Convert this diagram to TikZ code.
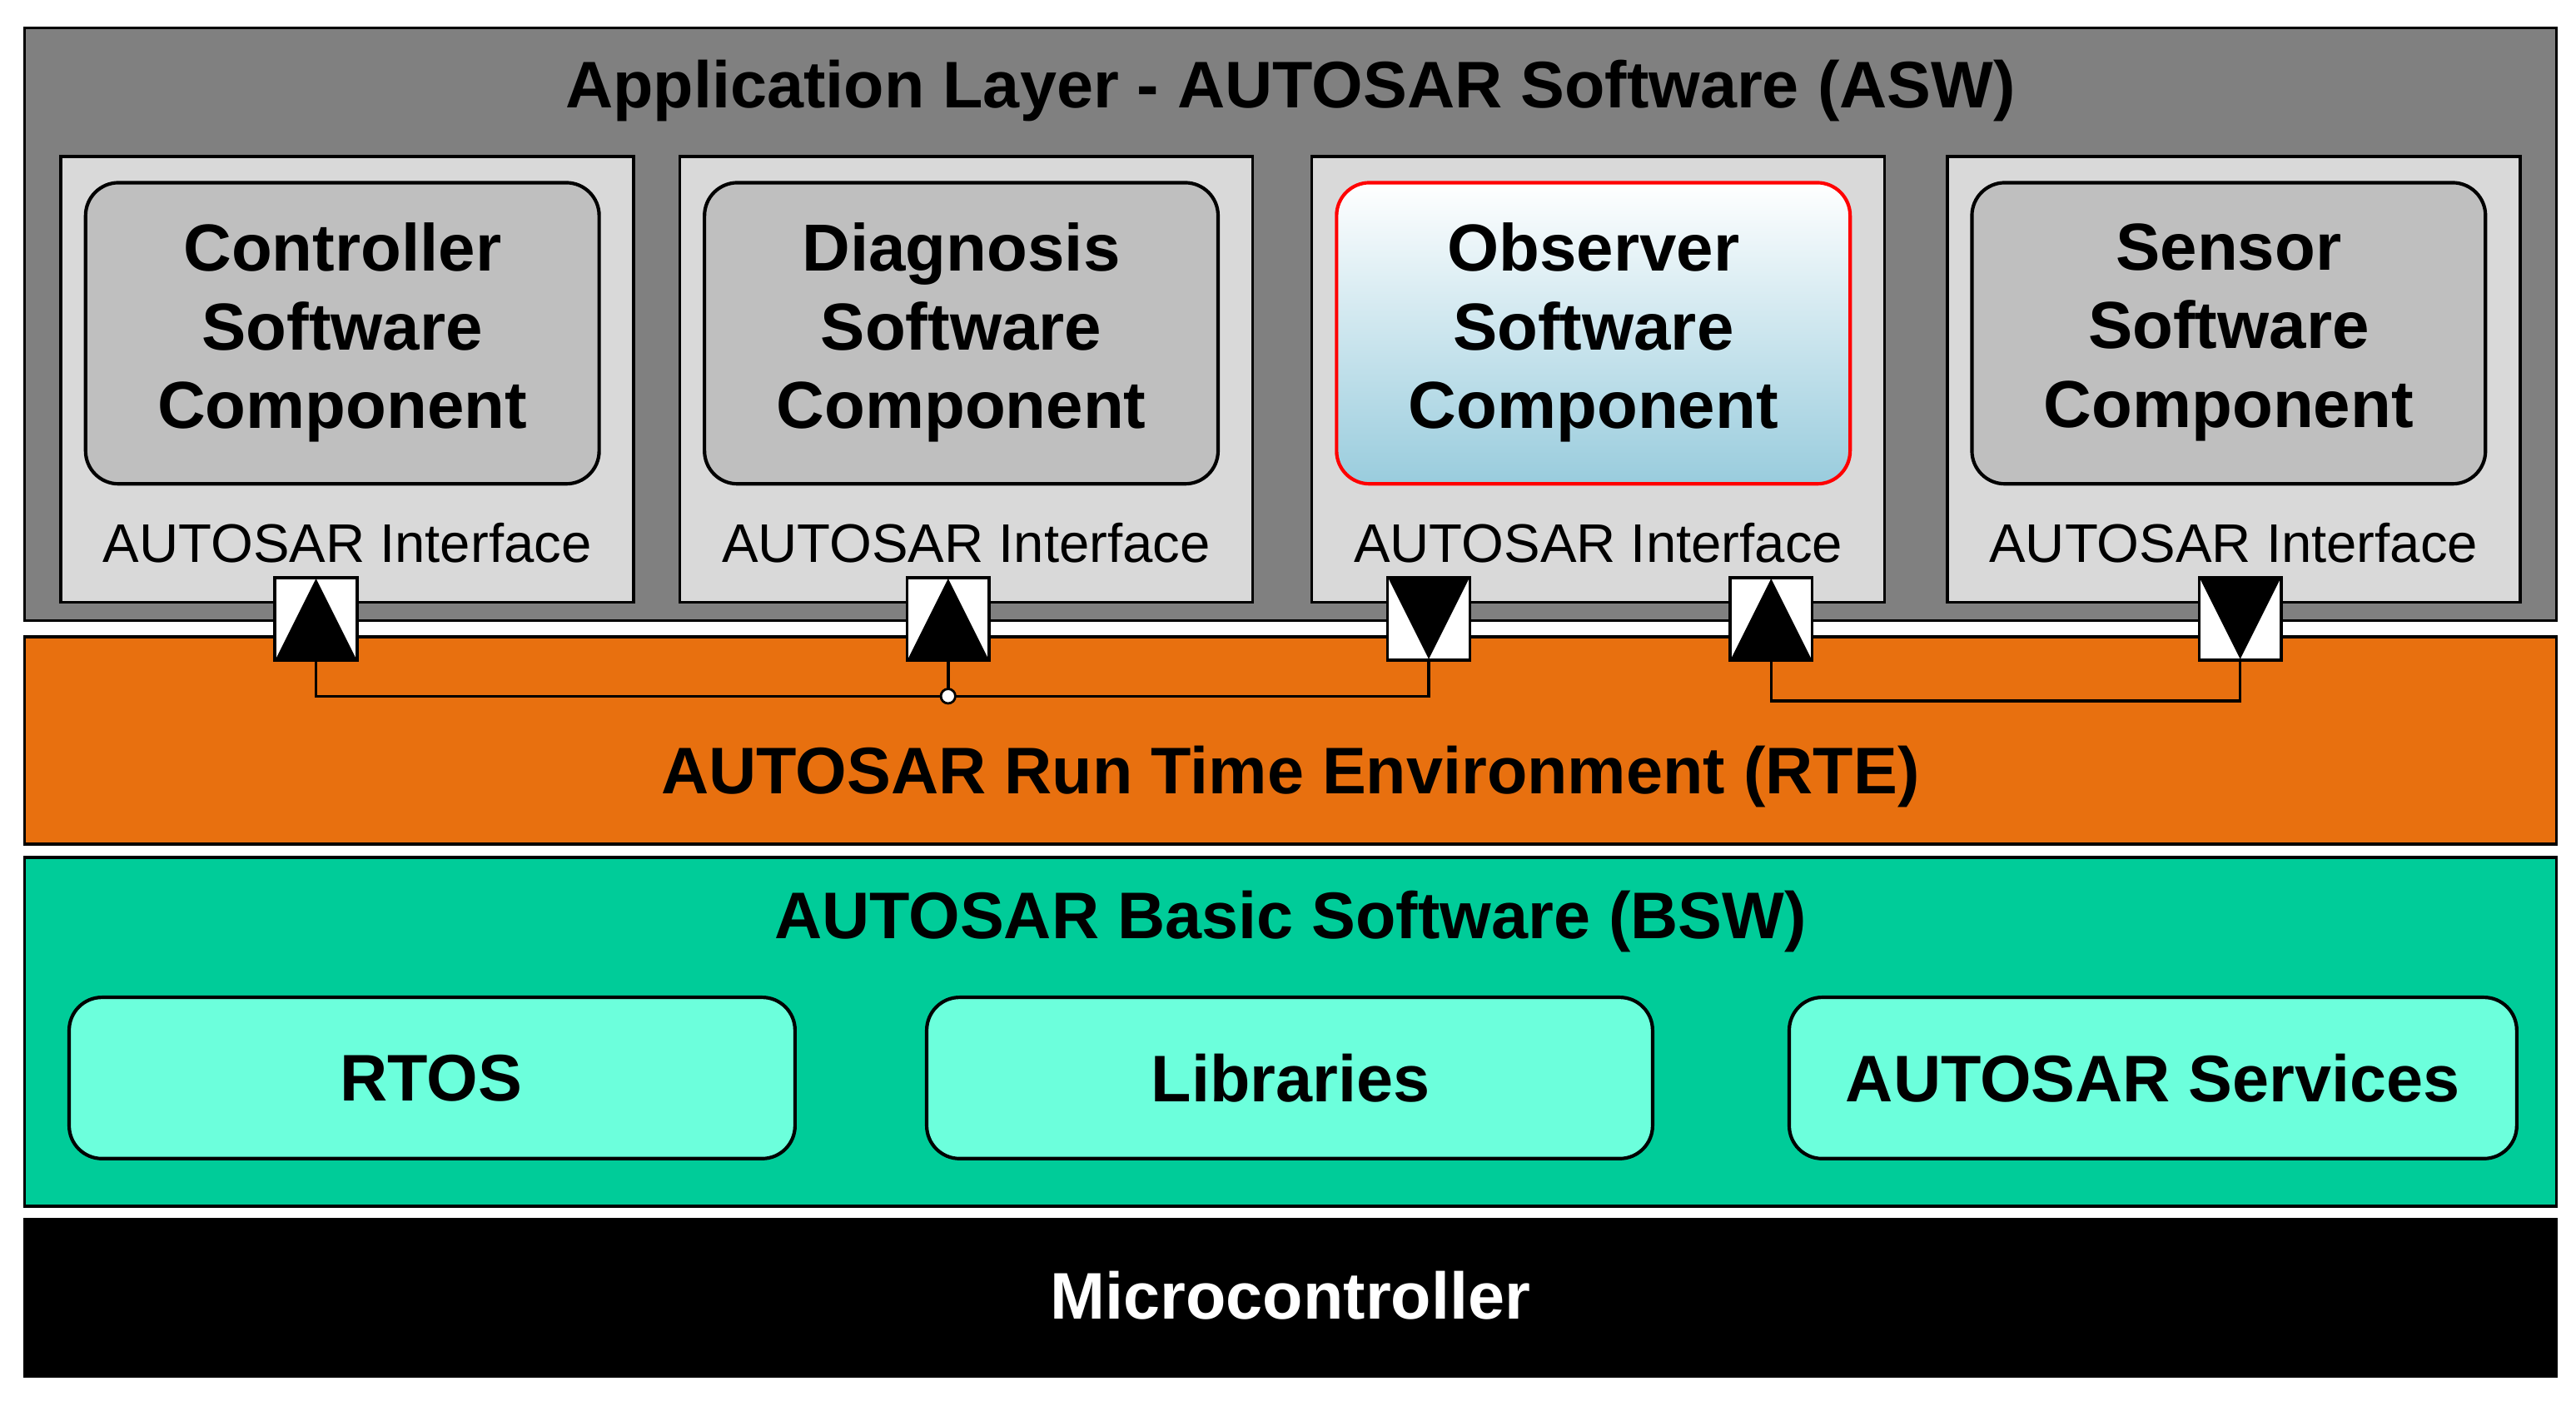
\documentclass[tikz,border=0pt]{standalone}
\usepackage{fontspec}
\usetikzlibrary{calc}
\setmainfont{Liberation Sans}
\definecolor{rteor}{HTML}{E8700F}
\definecolor{bswgr}{HTML}{00CC99}
\definecolor{bsub}{HTML}{6CFFDC}
\definecolor{obsbl}{HTML}{99CCDD}
\begin{document}
\begin{tikzpicture}[x=0.05cm,y=-0.05cm,
  big/.style={font=\fontsize{57}{68}\selectfont\bfseries},
  comp/.style={font=\fontsize{57.5}{68}\selectfont\bfseries,align=center},
  intf/.style={font=\fontsize{47}{56}\selectfont},
  lay/.style={draw=black,line width=2.5pt},
  slot/.style={draw=black,line width=2.5pt,fill=black!15},
  inner/.style={draw=black,line width=3pt,fill=black!25,rounded corners=1cm},
  bsub/.style={draw=black,line width=3pt,fill=bsub,rounded corners=1cm},
  port/.style={draw=black,line width=2.5pt,fill=white,minimum size=2.5cm,inner sep=0pt},
  wire/.style={line width=2.5pt}]
\useasboundingbox (0,0) rectangle (1565,860);
% ASW
\draw[lay,fill=black!50] (15,17) rectangle (1553,377);
\node[big] (asw) at (784,55) {Application Layer - AUTOSAR Software (ASW)};
\foreach \x/\n in {37/a,413/b,797/c,1183/d}{
  \draw[slot] (\x,95) rectangle ++(348,271);
  \node[intf] (i\n) at (\x+174,330) {AUTOSAR Interface};
}
\draw[inner] (52,111) rectangle (364,294);
\node[comp] (c1) at (208,202) {Controller\\Software\\Component};
\draw[inner] (428,111) rectangle (740,294);
\node[comp] (c2) at (584,202) {Diagnosis\\Software\\Component};
\shade[top color=white,bottom color=obsbl,rounded corners=1cm] (812,111) rectangle (1124,294);
\draw[draw=red,line width=3pt,rounded corners=1cm] (812,111) rectangle (1124,294);
\node[comp] (c3) at (968,202) {Observer\\Software\\Component};
\draw[inner] (1198,111) rectangle (1510,294);
\node[comp] (c4) at (1354,202) {Sensor\\Software\\Component};
% RTE
\draw[lay,fill=rteor] (15,387) rectangle (1553,513);
\node[big] (rte) at (784,472) {AUTOSAR Run Time Environment (RTE)};
% ports
\foreach \x/\n in {192/p1,576/p2,868/p3,1076/p4,1361/p5}{
  \node[port] (\n) at (\x,376) {};
}
\foreach \n in {p1,p2,p4}{
  \fill ($(\n.south west)+(2pt,2pt)$) -- ($(\n.north)+(0,-2pt)$) -- ($(\n.south east)+(-2pt,2pt)$) -- cycle;
}
\foreach \n in {p3,p5}{
  \fill ($(\n.north west)+(2pt,-2pt)$) -- ($(\n.south)+(0,2pt)$) -- ($(\n.north east)+(-2pt,-2pt)$) -- cycle;
}
\coordinate (j) at (576,423);
\draw[wire] (p1.south) |- (j) -| (p3.south);
\draw[wire] (p2.south) -- (j);
\draw[line width=2pt,fill=white] (j) circle (0.22cm);
\draw[wire] (p4.south) -- ++(0,24) -| (p5.south);
% BSW
\draw[lay,fill=bswgr] (15,521) rectangle (1553,733);
\node[big] (bsw) at (784,560) {AUTOSAR Basic Software (BSW)};
\draw[bsub] (42,606) rectangle (483,704);
\node[big] (r) at (262,655) {RTOS};
\draw[bsub] (563,606) rectangle (1004,704);
\node[big] (l) at (784,655) {Libraries};
\draw[bsub] (1087,606) rectangle (1529,704);
\node[big] (s) at (1308,655) {AUTOSAR Services};
% MCU
\draw[lay,fill=black] (15,741) rectangle (1553,836);
\node[big,text=white] (m) at (784,787) {Microcontroller};
\end{tikzpicture}
\end{document}
